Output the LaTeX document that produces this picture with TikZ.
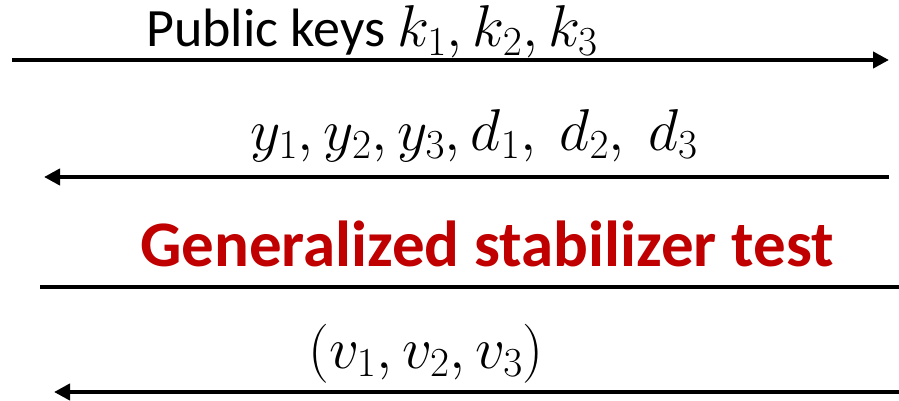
\RequirePackage{fix-cm}
\documentclass[tikz,border=0pt]{standalone}
\usepackage{fontspec}
\setmainfont{Carlito}
\usetikzlibrary{arrows.meta,positioning}
\definecolor{testred}{RGB}{192,0,0}
\newcommand{\msgmath}[1]{{\fontsize{59}{64}\selectfont$#1$}}

\begin{document}
\begin{tikzpicture}[x=1pt,y=-1pt,
  msg/.style={line width=4pt},
  arr/.style={msg,-{Triangle[length=16pt,width=16pt]}},
  lbl/.style={font=\fontsize{54}{60}\selectfont,inner sep=0pt,anchor=base},
  head/.style={lbl,font=\fontsize{65}{72}\selectfont\bfseries,text=testred}]
\useasboundingbox (0,0) rectangle (899,401);
% message lines
\coordinate (keysL) at (12,60);   \coordinate (keysR) at (889,60);
\coordinate (ansR) at (889,177);  \coordinate (ansL) at (44,177);
\coordinate (testL) at (40,287);  \coordinate (testR) at (899,287);
\coordinate (outR) at (899,392);  \coordinate (outL) at (54,392);
\draw[arr] (keysL) -- (keysR);
\draw[arr] (ansR) -- (ansL);
\draw[msg] (testL) -- (testR);
\draw[arr] (outR) -- (outL);
% labels
\node[lbl] (keys) at (372,47) {Public keys \msgmath{k_1,k_2,k_3}};
\node[lbl] (ans) at (474,150) {\msgmath{y_1,y_2,y_3,d_1,\ d_2,\ d_3}};
\node[head] (test) at (487,266) {Generalized stabilizer test};
\node[lbl] (out) at (426,368) {\msgmath{(v_1,v_2,v_3)}};
\end{tikzpicture}
\end{document}
